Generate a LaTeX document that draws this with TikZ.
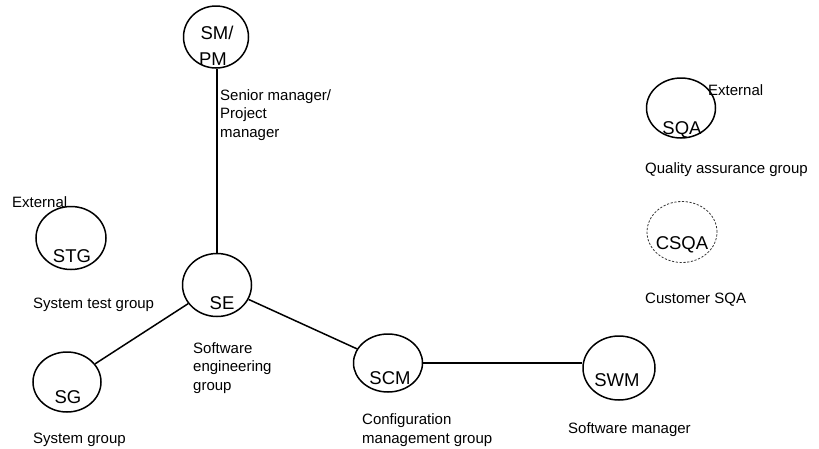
\documentclass[tikz,border=0pt]{standalone}
\usepackage{fontspec}
\setmainfont{Liberation Sans}
\usetikzlibrary{shapes.geometric}

\tikzset{
  group/.style={ellipse, draw=black, line width=1.5pt, inner sep=0pt,
                minimum width=#1},
  group/.default=68pt,
  extgroup/.style={group, draw=black!80, line width=0.8pt,
                   dash pattern=on 2.2pt off 1.6pt},
  link/.style={draw=black, line width=1.5pt},
  abbr/.style={anchor=base, inner sep=0pt, font=\fontsize{18.5}{21}\selectfont},
  % multi-line descriptions are placed by the baseline of their last line
  desc/.style={anchor=base west, inner sep=0pt, align=left,
               font=\fontsize{15}{18.5}\selectfont}
}

\begin{document}
\begin{tikzpicture}[x=1pt, y=-1pt]
  \useasboundingbox (0,0) rectangle (819,448);

  % organisational groups
  \node[group=65pt, minimum height=62pt] (smpm) at (216,37)  {};
  \node[group=69pt, minimum height=63pt] (se)   at (217,285) {};
  \node[group=70pt, minimum height=63pt] (stg)  at (71,238)  {};
  \node[group=68pt, minimum height=60pt] (sg)   at (67,382)  {};
  \node[group=69pt, minimum height=58pt] (scm)  at (388,363) {};
  \node[group=72pt, minimum height=64pt] (swm)  at (619,368) {};
  \node[group=69pt, minimum height=60pt] (sqa)  at (681,108) {};
  \node[extgroup, minimum width=70pt, minimum height=61pt] (csqa) at (682,232) {};

  % reporting links
  \draw[link] (se.north) -- (se.north |- smpm.south);
  \draw[link] (sg) -- (se);
  \draw[link] (se) -- (scm);
  \draw[link] (scm.east) -- (scm.east -| swm.west);

  % abbreviations inside the circles
  \node[abbr] (tsm)   at (217,39)  {SM/};
  \node[abbr] (tpm)   at (213,65)  {PM};
  \node[abbr] (tse)   at (222,309) {SE};
  \node[abbr] (tstg)  at (72,262)  {STG};
  \node[abbr] (tsg)   at (68,403)  {SG};
  \node[abbr] (tscm)  at (390,384) {SCM};
  \node[abbr] (tswm)  at (617,386) {SWM};
  \node[abbr] (tsqa)  at (682,134) {SQA};
  \node[abbr] (tcsqa) at (682,249) {CSQA};

  % descriptions
  \node[desc] (dsm)   at (220,137) {Senior manager/\\Project\\manager};
  \node[desc] (dext1) at (12,207)  {External};
  \node[desc] (dstg)  at (33,308)  {System test group};
  \node[desc] (dsg)   at (33,443)  {System group};
  \node[desc] (dse)   at (193,390) {Software\\engineering\\group};
  \node[desc] (dscm)  at (362,443) {Configuration\\management group};
  \node[desc] (dswm)  at (568,433) {Software manager};
  \node[desc] (dext2) at (708,95)  {External};
  \node[desc] (dsqa)  at (645,173) {Quality assurance group};
  \node[desc] (dcsqa) at (645,303) {Customer SQA};
\end{tikzpicture}
\end{document}
